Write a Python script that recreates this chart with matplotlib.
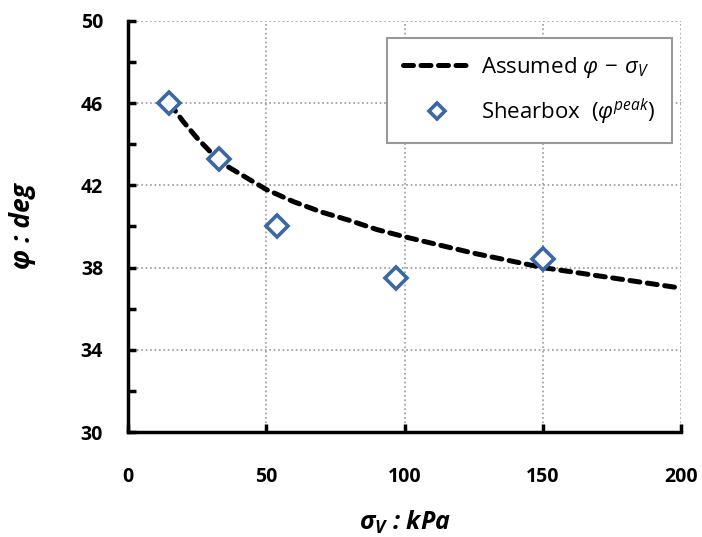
import matplotlib
matplotlib.use("Agg")
import matplotlib.pyplot as plt

# Assumed friction angle curve
assumed_stress = [15, 20, 25, 30, 35, 40, 50, 60, 70, 80, 90, 100, 125, 150, 175, 200]
assumed_phi = [46.0, 45.1, 44.3, 43.6, 43.0, 42.6, 41.8, 41.2, 40.7, 40.3, 39.85,
               39.5, 38.7, 38.0, 37.5, 37.0]

# Shearbox peak values
shear_stress = [15, 33, 54, 97, 150]
shear_phi = [46.0, 43.3, 40.0, 37.5, 38.4]

x_ticks = [0, 50, 100, 150, 200]
y_ticks = [30, 34, 38, 42, 46, 50]

plt.rcParams['font.family'] = ['Open Sans', 'DejaVu Sans']
plt.rcParams['mathtext.fontset'] = 'custom'
plt.rcParams['mathtext.rm'] = 'Open Sans'
plt.rcParams['mathtext.it'] = 'Open Sans:italic'
plt.rcParams['mathtext.bf'] = 'Open Sans:italic:bold'

fig = plt.figure(figsize=(7.02, 5.37), dpi=100)
ax = fig.add_axes([0.1823, 0.1955, 0.788, 0.7655])

ax.plot(assumed_stress, assumed_phi, color='black', linestyle=(0, (2.0, 1.5)),
        linewidth=3.6, dash_capstyle='round',
        label=r'Assumed $\varphi\,-\,\sigma_V$', zorder=3)
ax.plot(shear_stress, shear_phi, linestyle='none', marker='D', markersize=11,
        markerfacecolor='white', markeredgecolor='#3b68a3', markeredgewidth=2.6,
        label=r'Shearbox  ($\varphi^{peak}$)', zorder=4)

ax.set_xlim(0, 200)
ax.set_ylim(30, 50)
ax.set_xticks(x_ticks)
ax.set_yticks(y_ticks)
ax.set_yticks(range(30, 51, 2), minor=True)

ax.grid(True, which='major', linestyle=':', color='#999999', linewidth=1.2)

for side in ['top', 'right']:
    ax.spines[side].set_visible(False)
for side in ['left', 'bottom']:
    ax.spines[side].set_linewidth(2.5)

ax.tick_params(which='both', direction='in', length=6, width=2.5)
ax.tick_params(axis='y', pad=18)
ax.tick_params(axis='x', pad=25)
for lab in ax.get_xticklabels() + ax.get_yticklabels():
    lab.set_fontweight('bold')
    lab.set_fontsize(14)

ax.set_xlabel(r'$\mathbf{\sigma_V}$ : kPa', fontsize=18, fontweight='bold',
              fontstyle='italic', labelpad=16)
ax.set_ylabel('φ : deg', fontsize=19, fontweight='bold',
              fontstyle='italic', labelpad=32)

leg = ax.legend(loc='upper right', bbox_to_anchor=(0.983, 0.958), fontsize=16,
                frameon=True, fancybox=False, edgecolor='#999999', framealpha=1,
                handlelength=3.0, handletextpad=0.5, markerscale=0.75,
                borderpad=0.75, labelspacing=0.75, borderaxespad=0)
leg.get_frame().set_linewidth(1.5)

fig.savefig('out.png', dpi=100)
